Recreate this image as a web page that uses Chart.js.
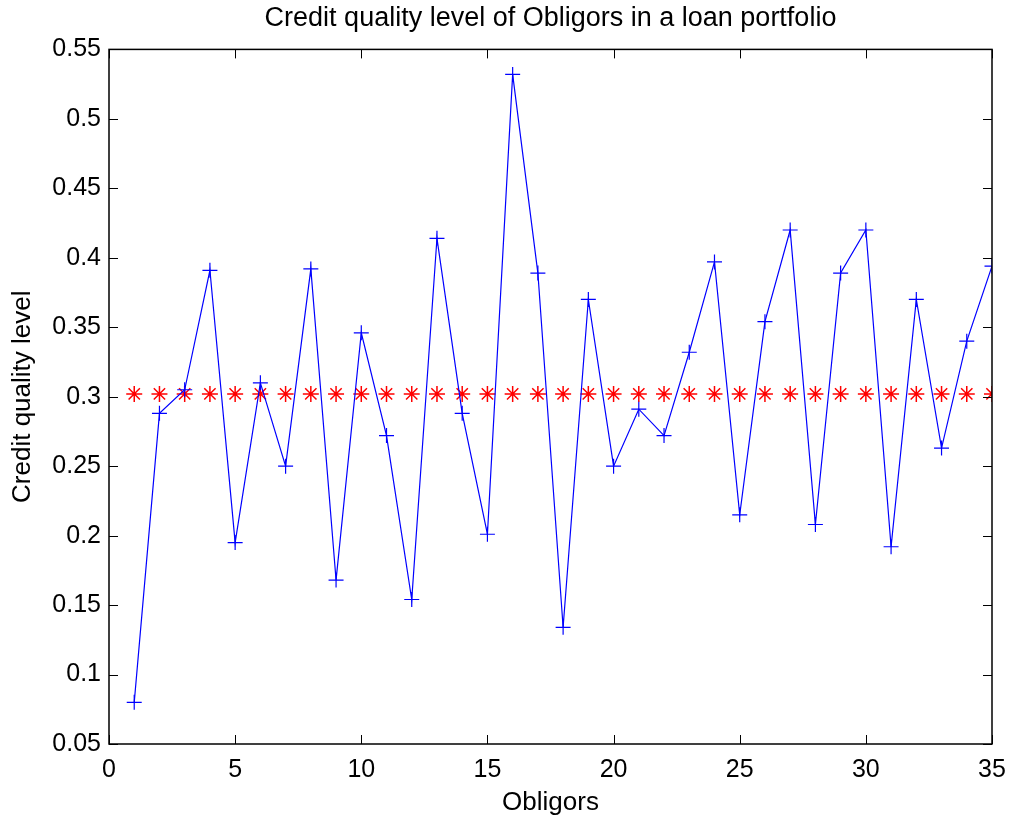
<!DOCTYPE html>
<html lang="en">
<head>
<meta charset="UTF-8">
<title>Credit quality level of Obligors</title>
<script src="https://cdn.jsdelivr.net/npm/chart.js"></script>
<style>
    html, body { margin: 0; padding: 0; background: #ffffff; }
    #wrap { position: relative; width: 1011px; height: 818px; }
</style>
</head>
<body>
<div id="wrap"><canvas id="creditChart"></canvas></div>
<script>
    // obligor index 1..35
    const obligors = [1, 2, 3, 4, 5, 6, 7, 8, 9, 10, 11, 12, 13, 14, 15, 16, 17, 18,
        19, 20, 21, 22, 23, 24, 25, 26, 27, 28, 29, 30, 31, 32, 33, 34, 35];

    // credit quality level of each obligor
    const quality = [0.080, 0.288, 0.305, 0.391, 0.195, 0.310, 0.250, 0.392, 0.168, 0.346,
        0.272, 0.154, 0.414, 0.288, 0.201, 0.532, 0.389, 0.134, 0.370, 0.250,
        0.291, 0.272, 0.332, 0.397, 0.215, 0.354, 0.420, 0.208, 0.389, 0.420,
        0.192, 0.370, 0.263, 0.340, 0.394];

    // portfolio mean level, repeated for every obligor
    const meanLevel = [0.302, 0.302, 0.302, 0.302, 0.302, 0.302, 0.302, 0.302, 0.302, 0.302,
        0.302, 0.302, 0.302, 0.302, 0.302, 0.302, 0.302, 0.302, 0.302, 0.302,
        0.302, 0.302, 0.302, 0.302, 0.302, 0.302, 0.302, 0.302, 0.302, 0.302,
        0.302, 0.302, 0.302, 0.302, 0.302];

    const xTicks = [0, 5, 10, 15, 20, 25, 30, 35];
    const yTicks = [0.05, 0.1, 0.15, 0.2, 0.25, 0.3, 0.35, 0.4, 0.45, 0.5, 0.55];

    const FONT = 'Liberation Sans, Arial, Helvetica, sans-serif';

    // box around the axes with inward tick marks on all four sides
    const matlabBox = {
        id: 'matlabBox',
        afterDraw(chart) {
            const ctx = chart.ctx;
            const a = chart.chartArea;
            const xs = chart.scales.x, ys = chart.scales.y;
            const len = 9;
            ctx.save();
            ctx.strokeStyle = '#000000';
            ctx.lineWidth = 1;
            ctx.beginPath();
            xTicks.forEach(v => {
                const px = Math.round(xs.getPixelForValue(v)) + 0.5;
                ctx.moveTo(px, a.bottom); ctx.lineTo(px, a.bottom - len);
                ctx.moveTo(px, a.top); ctx.lineTo(px, a.top + len);
            });
            yTicks.forEach(v => {
                const py = Math.round(ys.getPixelForValue(v)) + 0.5;
                ctx.moveTo(a.left, py); ctx.lineTo(a.left + len, py);
                ctx.moveTo(a.right, py); ctx.lineTo(a.right - len, py);
            });
            ctx.stroke();
            ctx.lineWidth = 1.5;
            ctx.strokeRect(a.left, a.top, a.right - a.left, a.bottom - a.top);
            ctx.restore();
        }
    };

    const ctx = document.getElementById('creditChart').getContext('2d');
    new Chart(ctx, {
        type: 'line',
        data: {
            datasets: [{
                label: 'Credit quality level',
                data: obligors.map((o, i) => ({ x: o, y: quality[i] })),
                borderColor: '#0000ff',
                backgroundColor: '#0000ff',
                borderWidth: 1.2,
                pointStyle: 'cross',
                pointRadius: 7.5,
                pointBorderWidth: 1.2,
                pointHoverRadius: 7.5,
                tension: 0,
                order: 1
            }, {
                label: 'Mean level',
                data: obligors.map((o, i) => ({ x: o, y: meanLevel[i] })),
                borderColor: '#ff0000',
                backgroundColor: '#ff0000',
                showLine: false,
                pointStyle: 'star',
                pointRadius: 8,
                pointBorderWidth: 1.5,
                pointHoverRadius: 8,
                order: 2
            }]
        },
        options: {
            responsive: true,
            maintainAspectRatio: false,
            animation: false,
            layout: { padding: { top: 0, right: 19, bottom: 0, left: 0 } },
            plugins: {
                legend: { display: false },
                tooltip: { enabled: false },
                title: {
                    display: true,
                    fullSize: false,
                    text: 'Credit quality level of Obligors in a loan portfolio',
                    color: '#000000',
                    font: { family: FONT, size: 27, weight: 'normal' },
                    padding: { top: 2, bottom: 15 }
                }
            },
            scales: {
                x: {
                    type: 'linear',
                    min: 0,
                    max: 35,
                    afterBuildTicks: s => { s.ticks = xTicks.map(v => ({ value: v })); },
                    grid: { display: false },
                    border: { display: false },
                    ticks: {
                        color: '#000000',
                        font: { family: FONT, size: 25 },
                        padding: 3,
                        maxRotation: 0
                    },
                    title: {
                        display: true,
                        text: 'Obligors',
                        color: '#000000',
                        font: { family: FONT, size: 26 },
                        padding: { top: 0, bottom: 0 }
                    },
                    afterFit: s => { s.height = 74; }
                },
                y: {
                    min: 0.05,
                    max: 0.55,
                    afterBuildTicks: s => { s.ticks = yTicks.map(v => ({ value: v })); },
                    grid: { display: false },
                    border: { display: false },
                    ticks: {
                        color: '#000000',
                        font: { family: FONT, size: 25 },
                        padding: 0,
                        callback: v => String(Number(v.toFixed(2)))
                    },
                    title: {
                        display: true,
                        text: 'Credit quality level',
                        color: '#000000',
                        font: { family: FONT, size: 26 },
                        padding: { top: 7, bottom: 0 }
                    },
                    afterFit: s => { s.width = 109; }
                }
            }
        },
        plugins: [matlabBox]
    });
</script>
</body>
</html>
